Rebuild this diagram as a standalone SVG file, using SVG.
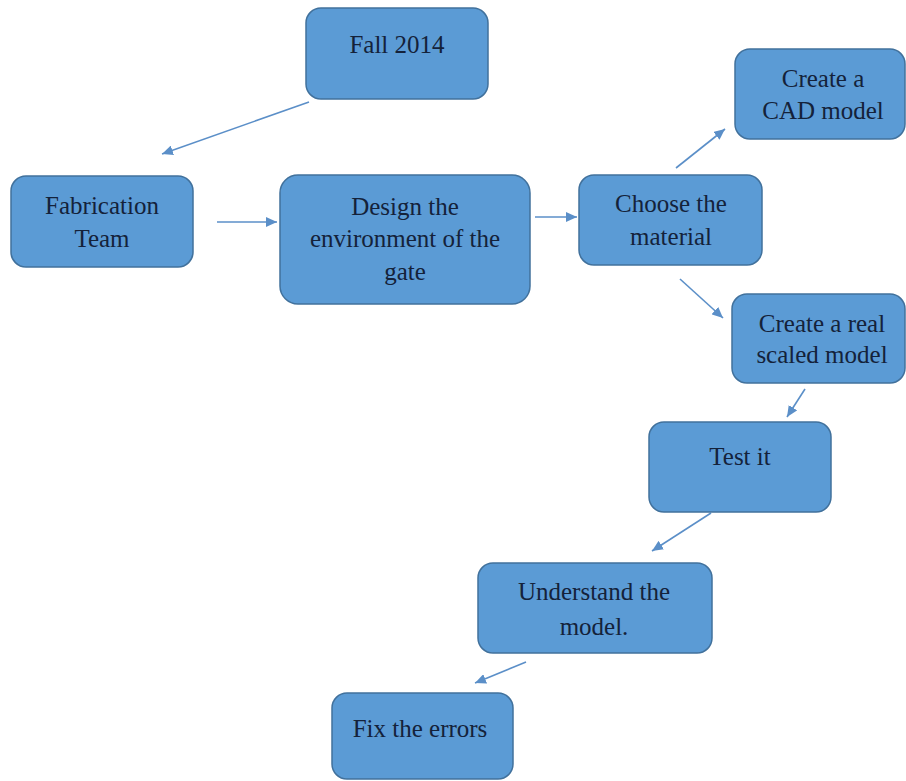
<svg xmlns="http://www.w3.org/2000/svg" width="906" height="781" viewBox="0 0 906 781">
<style>
.box{fill:#5b9bd5;stroke:#41719c;stroke-width:1.5}
.t{font-family:"Liberation Serif","Times New Roman",serif;font-size:25px;fill:#14223a;text-anchor:middle}
.c{stroke:#5b8fc8;stroke-width:1.6;fill:none;marker-end:url(#ah)}
</style>
<defs>
<marker id="ah" markerUnits="userSpaceOnUse" markerWidth="12" markerHeight="10" refX="11" refY="5" orient="auto">
<path d="M0,0 L11,5 L0,10 Z" fill="#5b8fc8"/>
</marker>
</defs>
<rect width="906" height="781" fill="#ffffff"/>
<g id="connectors">
<line class="c" x1="309" y1="102" x2="162" y2="154"/>
<line class="c" x1="217" y1="222" x2="277" y2="222"/>
<line class="c" x1="535" y1="217" x2="577" y2="217"/>
<line class="c" x1="676" y1="168" x2="725" y2="129"/>
<line class="c" x1="680" y1="279" x2="723" y2="318"/>
<line class="c" x1="805" y1="389" x2="787" y2="417"/>
<line class="c" x1="711" y1="513" x2="652" y2="551"/>
<line class="c" x1="526" y1="662" x2="475" y2="683"/>
</g>
<g id="fall2014"><rect class="box" x="306" y="8" width="182" height="91" rx="15"/><text class="t" x="397" y="53">Fall 2014</text></g>
<g id="fabrication"><rect class="box" x="11" y="176" width="182" height="91" rx="15"/><text class="t" x="102" y="214">Fabrication</text><text class="t" x="102" y="247">Team</text></g>
<g id="design"><rect class="box" x="280" y="175" width="250" height="129" rx="18"/><text class="t" x="405" y="215">Design the</text><text class="t" x="405" y="247">environment of the</text><text class="t" x="405" y="280">gate</text></g>
<g id="choose"><rect class="box" x="579" y="175" width="183" height="90" rx="15"/><text class="t" x="671" y="212">Choose the</text><text class="t" x="671" y="245">material</text></g>
<g id="cad"><rect class="box" x="735" y="49" width="170" height="90" rx="15"/><text class="t" x="823" y="87">Create a</text><text class="t" x="823" y="119">CAD model</text></g>
<g id="realmodel"><rect class="box" x="732" y="294" width="173" height="89" rx="15"/><text class="t" x="822" y="332">Create a real</text><text class="t" x="822" y="363">scaled model</text></g>
<g id="test"><rect class="box" x="649" y="422" width="182" height="90" rx="15"/><text class="t" x="740" y="465">Test it</text></g>
<g id="understand"><rect class="box" x="478" y="563" width="234" height="90" rx="15"/><text class="t" x="594" y="600">Understand the</text><text class="t" x="594" y="635">model.</text></g>
<g id="fix"><rect class="box" x="332" y="693" width="181" height="86" rx="15"/><text class="t" x="420" y="737">Fix the errors</text></g>
</svg>
